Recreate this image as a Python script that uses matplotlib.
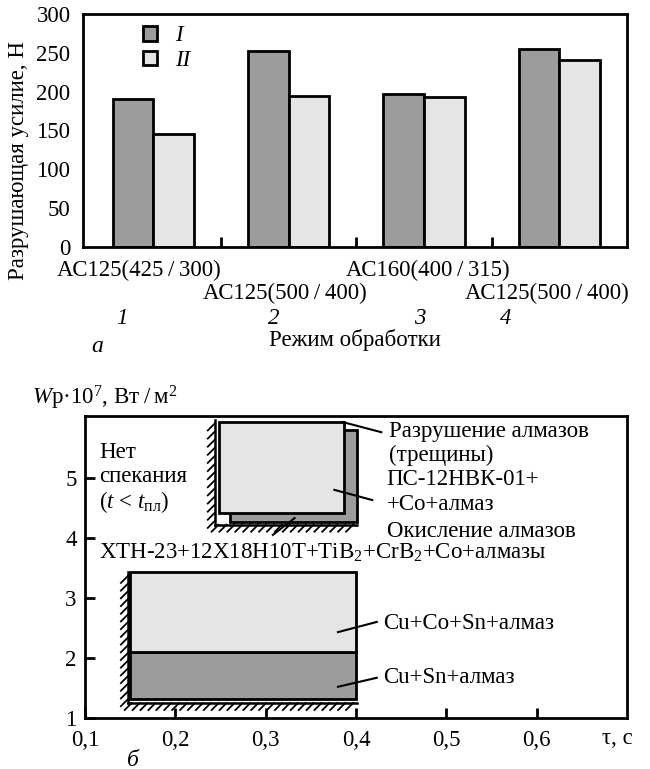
import matplotlib
matplotlib.use('Agg')
import matplotlib.pyplot as plt
import matplotlib.patheffects as pe
from matplotlib.patches import Rectangle

plt.rcParams['font.family'] = ['Liberation Serif', 'DejaVu Serif']
plt.rcParams['font.size'] = 16.5
plt.rcParams['mathtext.fontset'] = 'custom'
plt.rcParams['mathtext.rm'] = 'Liberation Serif'
plt.rcParams['mathtext.it'] = 'Liberation Serif:italic'

# --- data for chart (a)
modes = ['1', '2', '3', '4']
grades = ['АС125(425\u2009/\u2009300)', 'АС125(500\u2009/\u2009400)',
          'АС160(400\u2009/\u2009315)', 'АС125(500\u2009/\u2009400)']
force_I = [190, 253, 197, 255]
force_II = [145, 195, 193, 241]

# --- data for chart (b): time range (s) and Wp range for each region
cu_t = [0.15, 0.40]
cu_sn_w = [1.32, 2.10]
cu_co_sn_w = [2.10, 3.43]
ps_t = [0.248, 0.387]
ps_w = [4.42, 5.93]
xtn_t = [0.260, 0.401]
xtn_w = [4.27, 5.80]

dark = '#9c9c9c'
light = '#e5e5e5'
fs = 16.5

fig = plt.figure(figsize=(6.5, 7.69), dpi=100)

# ---------------- chart (a)
ax1 = fig.add_axes([83/650, 1-247/769, 544/650, 233/769])
x = list(range(len(modes)))
w = 0.30
ax1.bar([i - w/2 for i in x], force_I, w, color=dark, edgecolor='k', linewidth=2, label='I')
ax1.bar([i + w/2 for i in x], force_II, w, color=light, edgecolor='k', linewidth=2, label='II')
ax1.set_xlim(-0.52, 3.5)
ax1.set_ylim(0, 300)
ax1.set_yticks(range(0, 301, 50))
ax1.tick_params(axis='y', length=0, pad=9, labelsize=fs)
ax1.set_xticks([0.5, 1.5, 2.5])
ax1.set_xticklabels([])
ax1.tick_params(axis='x', direction='in', length=7, width=2)
for s in ax1.spines.values():
    s.set_linewidth(2)

leg = ax1.legend(loc='upper left', bbox_to_anchor=(0.09, 1.0), frameon=False,
                 handlelength=0.6, handleheight=0.6, handletextpad=0.8,
                 labelspacing=0.15, borderpad=0, prop={'style': 'italic', 'size': fs})
for h in leg.legend_handles:
    h.set_linewidth(2)

trans = ax1.get_xaxis_transform()
grade_dx = [-0.11, -0.03, 0.03, -0.09]
grade_row = [-0.10, -0.20, -0.10, -0.20]
num_dx = [-0.23, -0.11, -0.03, -0.40]
for i in x:
    ax1.text(i + grade_dx[i], grade_row[i], grades[i], transform=trans,
             ha='center', va='center', fontsize=fs)
    ax1.text(i + num_dx[i], -0.305, modes[i], transform=trans,
             ha='center', va='center', fontsize=fs, style='italic')
fig.text(355/650, 1-340/769, 'Режим обработки', ha='center', va='center', fontsize=fs)
fig.text(97/650, 1-347/769, 'а', ha='center', va='center', fontsize=17, style='italic')
fig.text(19/650, 1-160/769, 'Разрушающая усилие, Н', rotation=90,
         ha='center', va='center', fontsize=fs)

# ---------------- chart (b)
ax2 = fig.add_axes([85/650, 1-718/769, 542/650, 302/769])
ax2.set_xlim(0.1, 0.7)
ax2.set_ylim(1, 6.03)
ax2.set_xticks([0.1, 0.2, 0.3, 0.4, 0.5, 0.6])
ax2.set_xticklabels(['0,1', '0,2', '0,3', '0,4', '0,5', '0,6'])
ax2.set_yticks([1, 2, 3, 4, 5])
ax2.tick_params(axis='x', direction='in', length=7, width=2, pad=9, labelsize=fs)
ax2.tick_params(axis='y', direction='in', length=7, width=2, pad=6, labelsize=fs)
for s in ax2.spines.values():
    s.set_linewidth(2)

# lower block: Cu+Sn and Cu+Co+Sn
ax2.add_patch(Rectangle((cu_t[0], cu_sn_w[0]), cu_t[1]-cu_t[0], cu_sn_w[1]-cu_sn_w[0],
                        facecolor=dark, edgecolor='k', lw=2, zorder=2))
ax2.add_patch(Rectangle((cu_t[0], cu_co_sn_w[0]), cu_t[1]-cu_t[0], cu_co_sn_w[1]-cu_co_sn_w[0],
                        facecolor=light, edgecolor='k', lw=2, zorder=2))
# upper block: XTH (back) and ПС (front)
ax2.add_patch(Rectangle((xtn_t[0], xtn_w[0]), xtn_t[1]-xtn_t[0], xtn_w[1]-xtn_w[0],
                        facecolor=dark, edgecolor='k', lw=2, zorder=2))
ax2.add_patch(Rectangle((ps_t[0], ps_w[0]), ps_t[1]-ps_t[0], ps_w[1]-ps_w[0],
                        facecolor=light, edgecolor='k', lw=2, zorder=3))

# hatched walls (lower bound of time / power)
def wall(t0, t1, w0, w1):
    fx = [pe.withTickedStroke(angle=45, spacing=5.5, length=1.3, linewidth=1.3)]
    fy = [pe.withTickedStroke(angle=135, spacing=5.5, length=1.3, linewidth=1.3)]
    ax2.plot([t1, t0], [w0, w0], color='k', lw=1.8, path_effects=fx, zorder=2)
    ax2.plot([t0, t0], [w0, w1], color='k', lw=1.8, path_effects=fy, zorder=2)

wall(0.1475, 0.401, 1.25, cu_co_sn_w[1])
wall(0.2437, 0.401, 4.22, 5.97)

# leader lines
leaders = [
    ([0.385, 0.428], [5.93, 5.76]),
    ([0.376, 0.418], [4.80, 4.63]),
    ([0.308, 0.332], [4.05, 4.33]),
    ([0.380, 0.423], [2.43, 2.60]),
    ([0.380, 0.423], [1.52, 1.67]),
]
for lx, ly in leaders:
    ax2.plot(lx, ly, color='k', lw=1.5, zorder=4)

ax2.text(0.116, 5.43, 'Нет', fontsize=fs, va='center')
ax2.text(0.116, 5.02, 'спекания', fontsize=fs, va='center')
ax2.text(0.116, 4.60, r'($\mathit{t}$ < $\mathit{t}_{\mathrm{пл}}$)', fontsize=fs, va='center')
ax2.text(0.437, 5.77, 'Разрушение алмазов', fontsize=fs, va='center')
ax2.text(0.437, 5.38, '(трещины)', fontsize=fs, va='center')
ax2.text(0.434, 4.97, 'ПС-12НВК-01+', fontsize=fs, va='center')
ax2.text(0.434, 4.55, '+Co+алмаз', fontsize=fs, va='center')
ax2.text(0.434, 4.10, 'Окисление алмазов', fontsize=fs, va='center')
ax2.text(0.363, 3.75, r'ХТН-23+12Х18Н10Т+TiB$_2$+CrB$_2$+Co+алмазы',
         fontsize=fs, va='center', ha='center')
ax2.text(0.43, 2.58, 'Cu+Co+Sn+алмаз', fontsize=fs, va='center')
ax2.text(0.43, 1.67, 'Cu+Sn+алмаз', fontsize=fs, va='center')

fig.text(617/650, 1-738/769, 'τ, с', ha='center', va='center', fontsize=fs)
fig.text(32/650, 1-398/769, '$\\mathit{W}$р·10$^7$, Вт\u2009/\u2009м$^2$',
         ha='left', va='center', fontsize=fs)
fig.text(133/650, 1-760/769, 'б', ha='center', va='center', fontsize=17, style='italic')

fig.savefig('out.png', dpi=100)
